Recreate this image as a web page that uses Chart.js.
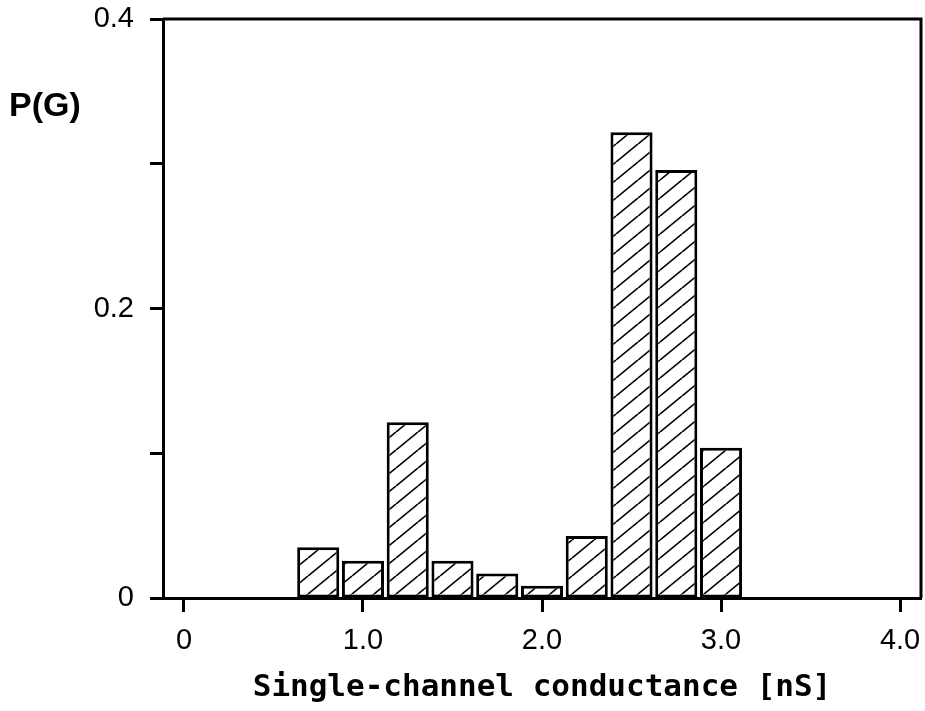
<!DOCTYPE html>
<html>
<head>
<meta charset="utf-8">
<script src="https://cdn.jsdelivr.net/npm/chart.js@4"></script>
<style>
  html, body { margin: 0; padding: 0; background: #fff; }
  #wrap { width: 925px; height: 711px; }
</style>
</head>
<body>
<div id="wrap"><canvas id="c" width="925" height="711"></canvas></div>
<script>
// ---- data ----
const binCenters = [0.75, 1.0, 1.25, 1.5, 1.75, 2.0, 2.25, 2.5, 2.75, 3.0];
const probabilities = [0.035, 0.0258, 0.1214, 0.0258, 0.017, 0.0085, 0.0428, 0.3217, 0.2957, 0.1038];
const xTickValues = [0, 1, 2, 3, 4];
const xTickLabels = ['0', '1.0', '2.0', '3.0', '4.0'];
const yTickValues = [0, 0.1, 0.2, 0.3, 0.4];
const yTickLabels = ['0', '', '0.2', '', '0.4'];
const xTitle = 'Single-channel conductance [nS]';
const yTitle = 'P(G)';

// ---- hatch pattern ----
function makeHatch() {
  const W = 22, H = 18;
  const pc = document.createElement('canvas');
  pc.width = W; pc.height = H;
  const p = pc.getContext('2d');
  p.fillStyle = '#fff';
  p.fillRect(0, 0, W, H);
  p.strokeStyle = '#000';
  p.lineWidth = 1.6;
  for (let k = -1; k <= 1; k++) {
    p.beginPath();
    p.moveTo(0, H + k * H);
    p.lineTo(W, 0 + k * H);
    p.stroke();
  }
  return p.createPattern(pc, 'repeat');
}

const framePlugin = {
  id: 'frame',
  afterDraw(chart) {
    const { ctx, chartArea: a } = chart;
    ctx.save();
    ctx.strokeStyle = '#000';
    ctx.lineWidth = 3;
    ctx.beginPath();
    ctx.moveTo(a.left, a.top);
    ctx.lineTo(a.right, a.top);
    ctx.lineTo(a.right, a.bottom);
    ctx.stroke();
    ctx.fillStyle = '#000';
    ctx.font = 'bold 34px "Liberation Sans", Arial, sans-serif';
    ctx.textBaseline = 'alphabetic';
    ctx.textAlign = 'left';
    ctx.fillText(yTitle, 9, 116);
    ctx.restore();
  }
};

const tickFont = { family: '"Liberation Sans", Arial, sans-serif', size: 29 };

new Chart(document.getElementById('c'), {
  type: 'bar',
  data: {
    datasets: [{
      data: binCenters.map((x, i) => ({ x: x, y: probabilities[i] })),
      backgroundColor: makeHatch(),
      borderColor: '#000',
      borderWidth: 3,
      borderSkipped: false,
      categoryPercentage: 1.0,
      barPercentage: 0.94
    }]
  },
  plugins: [framePlugin],
  options: {
    responsive: false,
    animation: false,
    events: [],
    layout: { padding: { top: 19, right: 4, left: 0, bottom: 0 } },
    plugins: { legend: { display: false }, tooltip: { enabled: false } },
    scales: {
      x: {
        type: 'linear',
        offset: false,
        min: -0.117,
        max: 4.117,
        afterFit(s) { s.height = 113; s.paddingLeft = 0; s.paddingRight = 0; },
        afterBuildTicks(s) { s.ticks = xTickValues.map(v => ({ value: v })); },
        ticks: {
          color: '#000',
          font: tickFont,
          padding: 12,
          maxRotation: 0,
          autoSkip: false,
          callback: (v) => xTickLabels[xTickValues.indexOf(v)]
        },
        grid: { offset: false, drawOnChartArea: false, drawTicks: true, tickLength: 14, tickWidth: 3, tickColor: '#000' },
        border: { display: true, color: '#000', width: 3 },
        title: {
          display: true,
          text: xTitle,
          color: '#000',
          font: { family: '"DejaVu Sans Mono", "Liberation Mono", monospace', size: 31, weight: 'bold' },
          padding: { top: 0, bottom: 4 }
        }
      },
      y: {
        min: 0,
        max: 0.4,
        afterFit(s) { s.width = 163; s.paddingTop = 0; s.paddingBottom = 0; },
        afterBuildTicks(s) { s.ticks = yTickValues.map(v => ({ value: v })); },
        ticks: {
          color: '#000',
          font: tickFont,
          padding: 16,
          autoSkip: false,
          callback: (v) => {
            const i = yTickValues.findIndex(t => Math.abs(t - v) < 1e-9);
            return i >= 0 ? yTickLabels[i] : '';
          }
        },
        grid: { drawOnChartArea: false, drawTicks: true, tickLength: 13, tickWidth: 3, tickColor: '#000' },
        border: { display: true, color: '#000', width: 3 }
      }
    }
  }
});
</script>
</body>
</html>
